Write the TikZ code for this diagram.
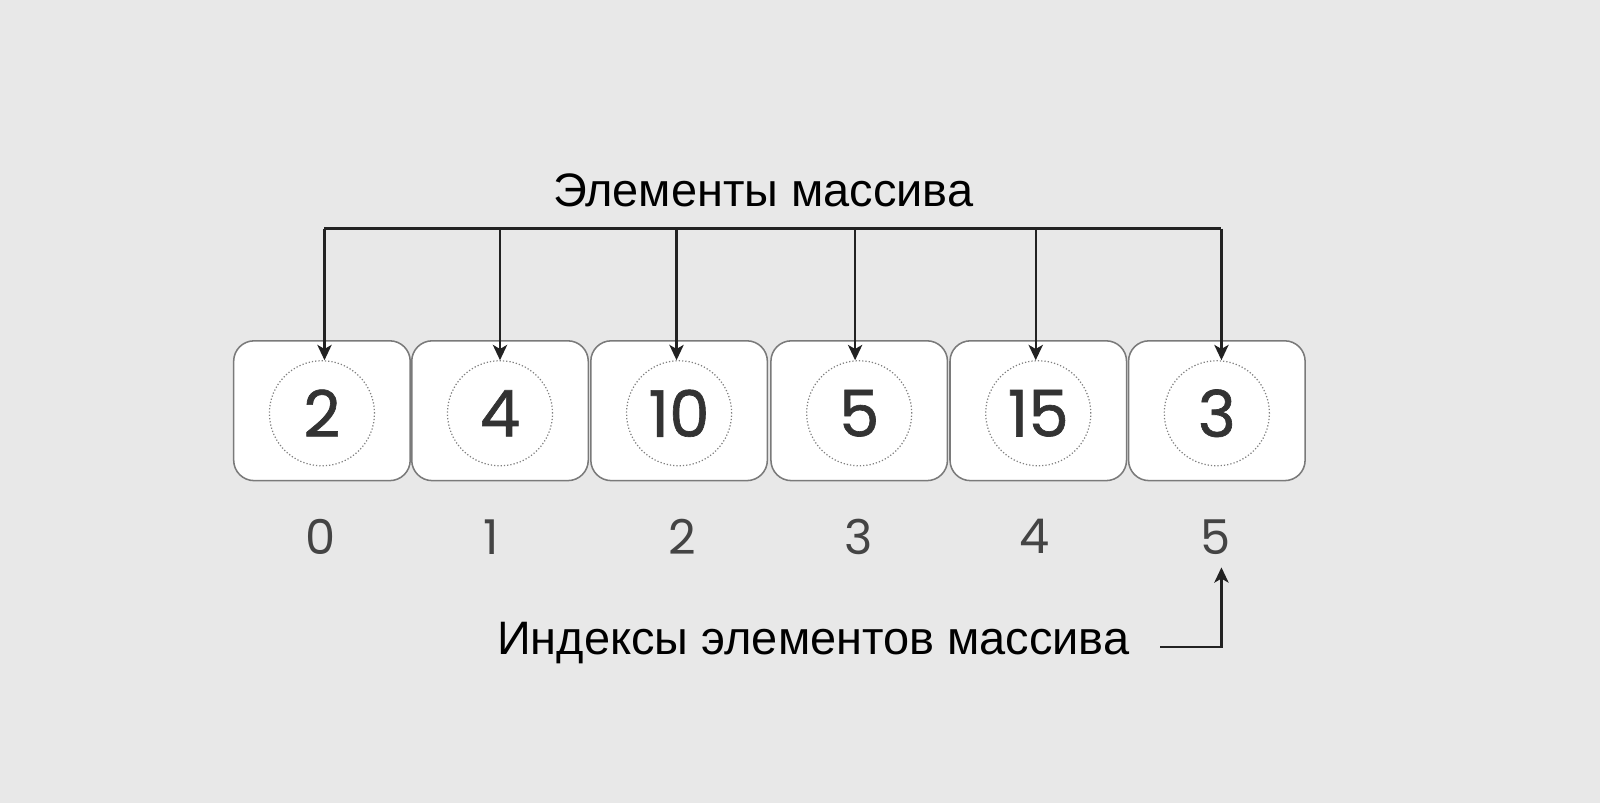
\documentclass[tikz,border=0pt]{standalone}
\usepackage{fontspec}
\setmainfont{Liberation Sans}
\newfontfamily\numfont[FakeBold=1.0]{Poppins}
\newfontfamily\idxfont{Poppins}
\usetikzlibrary{arrows.meta}
\definecolor{bgc}{HTML}{E8E8E8}
\definecolor{boxline}{HTML}{7A7A7A}
\definecolor{numc}{HTML}{333333}
\definecolor{idxc}{HTML}{444444}
\definecolor{linec}{HTML}{222222}
\tikzset{
  cell/.style={draw=boxline, line width=1.5pt, fill=white, rounded corners=20pt, minimum width=173pt, minimum height=137pt, inner sep=0pt},
  ring/.style={draw=gray, dotted, line width=1.2pt, circle, minimum size=103pt, inner sep=0pt, text=numc, font=\numfont\fontsize{63}{63}\selectfont},
  idx/.style={text=idxc, font=\idxfont\fontsize{47}{47}\selectfont, inner sep=0pt},
  lbl/.style={text=black, font=\fontsize{46}{46}\selectfont, inner sep=0pt},
  conn/.style={draw=linec, line width=2.4pt, -{Stealth[length=15pt,width=14pt,inset=4pt]}},
  wire/.style={draw=linec, line width=2.4pt}
}
\begin{document}
\begin{tikzpicture}[x=1pt,y=-1pt]
\fill[bgc] (0,0) rectangle (1568,787);
\useasboundingbox (0,0) rectangle (1568,787);
% cells
\foreach \i/\x/\ix in {0/315.5/314,1/490/481,2/665.5/669,3/842/841,4/1017.5/1014,5/1192.5/1191}{
  \node[cell] (c\i) at (\x,402.5) {};
  \node[idx] (i\i) at (\ix,526) {\i};
}
\foreach \i/\x/\v in {0/315.5/2,1/490/4,2/665.5/10,3/842/5,4/1017.5/15,5/1192.5/3}{
  \node[ring] (r\i) at (\x,405) {\v};
}
% title and top connectors
\node[lbl] (t) at (748,187) {Элементы массива};
\coordinate (bus0) at (318,224);
\coordinate (bus5) at (1197,224);
\draw[wire] (bus0) -- (bus5);
\foreach \i/\x in {0/318,1/490,2/663,3/838,4/1015,5/1197}{
  \coordinate (top\i) at (\x,224);
  \coordinate (tip\i) at (\x,353);
  \draw[conn] (top\i) -- (tip\i);
}
% bottom label
\node[lbl] (b) at (797,630) {Индексы элементов массива};
\coordinate (s) at (1137,634);
\coordinate (k) at (1197,634);
\coordinate (e) at (1197,556);
\draw[conn] (s) -- (k) -- (e);
\end{tikzpicture}
\end{document}
